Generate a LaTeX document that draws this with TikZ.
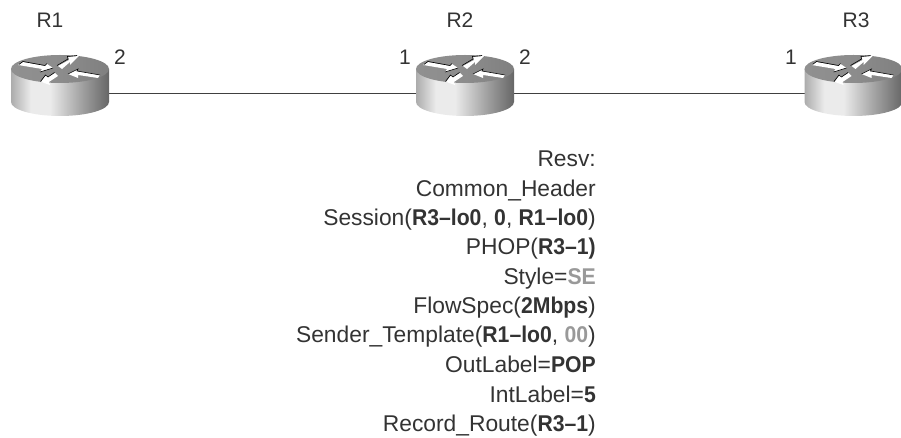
\documentclass[tikz,border=0pt]{standalone}
\usepackage{fontspec}
\setmainfont{Liberation Sans}[BoldFeatures={FakeStretch=0.93}]
\definecolor{ink}{gray}{0.2}
\definecolor{lightgrey}{gray}{0.6}
\pgfdeclarehorizontalshading{cylbody}{100bp}{
  color(0bp)=(black!48); color(22bp)=(black!40); color(35bp)=(black!8);
  color(45bp)=(black!8); color(60bp)=(black!35); color(75bp)=(black!60); color(100bp)=(black!85)}
\pgfdeclarehorizontalshading{cyltop}{100bp}{
  color(0bp)=(black!42); color(50bp)=(black!45); color(100bp)=(black!55)}
\tikzset{
  x=1bp,y=-1bp,
  lbl/.style={font=\fontsize{21bp}{24bp}\selectfont,text=ink,inner sep=0pt,anchor=base},
  msg/.style={font=\fontsize{22.8bp}{26bp}\selectfont,text=ink,inner sep=0pt,anchor=base east},
  link/.style={draw=black!75,line width=1bp},
  keyfill/.style={fill=white},
  keyedge/.style={draw=black,line width=0.6bp},
  pics/router/.style={code={
    \shade[shading=cylbody]
      (-49,0) -- (-49,33) .. controls (-49,40.7) and (-27,47) .. (0,47)
      .. controls (27,47) and (49,40.7) .. (49,33) -- (49,0) -- cycle;
    \shade[shading=cyltop] (0,0) ellipse[x radius=49,y radius=14];
    \fill[keyfill] (-42,-4) -- (-18,0) -- (-20,3) -- (-7,-1) -- (-13,-5) -- (-15,-3) -- (-37,-7) -- cycle;
    \draw[keyedge] (-41,-4.5) -- (-37,-7.5) -- (-15,-3.5) -- (-13,-5.5);
    \draw[keyedge] (-20,3) -- (-7,-1);
    \fill[keyfill] (8,5) -- (18,0) -- (17,2) -- (40,6) -- (38,9) -- (18,6) -- (18,9) -- cycle;
    \draw[keyedge] (8,5) -- (18,0) -- (17,2) -- (40,6);
    \fill[keyfill] (19,-13) -- (8,-12) -- (9,-9) -- (-2,-3) -- (2,0) -- (10,-7) -- (10,-4) -- cycle;
    \draw[keyedge] (-3,-3.5) -- (8,-10) -- (7.5,-12.5) -- (17,-13.5);
    \fill[keyfill] (-19,13) -- (-10,16) -- (-11,13) -- (-2,7) -- (-5,4) -- (-12,8) -- (-14,6) -- cycle;
    \draw[keyedge] (-19.5,12.5) -- (-14.5,6) -- (-12,8) -- (-5.5,3.5);
  }}
}
\begin{document}
\begin{tikzpicture}
\useasboundingbox (0,0) rectangle (901,438);
\coordinate (c1) at (60,69);
\coordinate (c2) at (465,69);
\coordinate (c3) at (853.5,69);
\coordinate (p1) at (109,94);
\coordinate (p2l) at (416,94);
\coordinate (p2r) at (514,94);
\coordinate (p3) at (805,94);
\draw[link] (p1) -- (p2l);
\draw[link] (p2r) -- (p3);
\pic at (c1) {router};
\pic at (c2) {router};
\pic at (c3) {router};
\node[lbl] (n1) at (50,28) {R1};
\node[lbl] (n2) at (460,28) {R2};
\node[lbl] (n3) at (856,28) {R3};
\node[lbl] (i1) at (120,65) {2};
\node[lbl] (i2) at (405,65) {1};
\node[lbl] (i3) at (525,65) {2};
\node[lbl] (i4) at (791,65) {1};
\node[msg] (m1) at (596,167) {Resv:};
\node[msg] (m2) at (596,196.5) {Common\_Header};
\node[msg] (m3) at (596,226) {Session(\textbf{R3–lo0}, \textbf{0}, \textbf{R1–lo0})};
\node[msg] (m4) at (596,255) {PHOP(\textbf{R3–1)}};
\node[msg] (m5) at (596,284.5) {Style=\textbf{\textcolor{lightgrey}{SE}}};
\node[msg] (m6) at (596,314) {FlowSpec(\textbf{2Mbps})};
\node[msg] (m7) at (596,343) {Sender\_Template(\textbf{R1–lo0}, \textbf{\textcolor{lightgrey}{00}})};
\node[msg] (m8) at (596,372.5) {OutLabel=\textbf{POP}};
\node[msg] (m9) at (596,402) {IntLabel=\textbf{5}};
\node[msg] (m10) at (596,431) {Record\_Route(\textbf{R3–1})};
\end{tikzpicture}
\end{document}
